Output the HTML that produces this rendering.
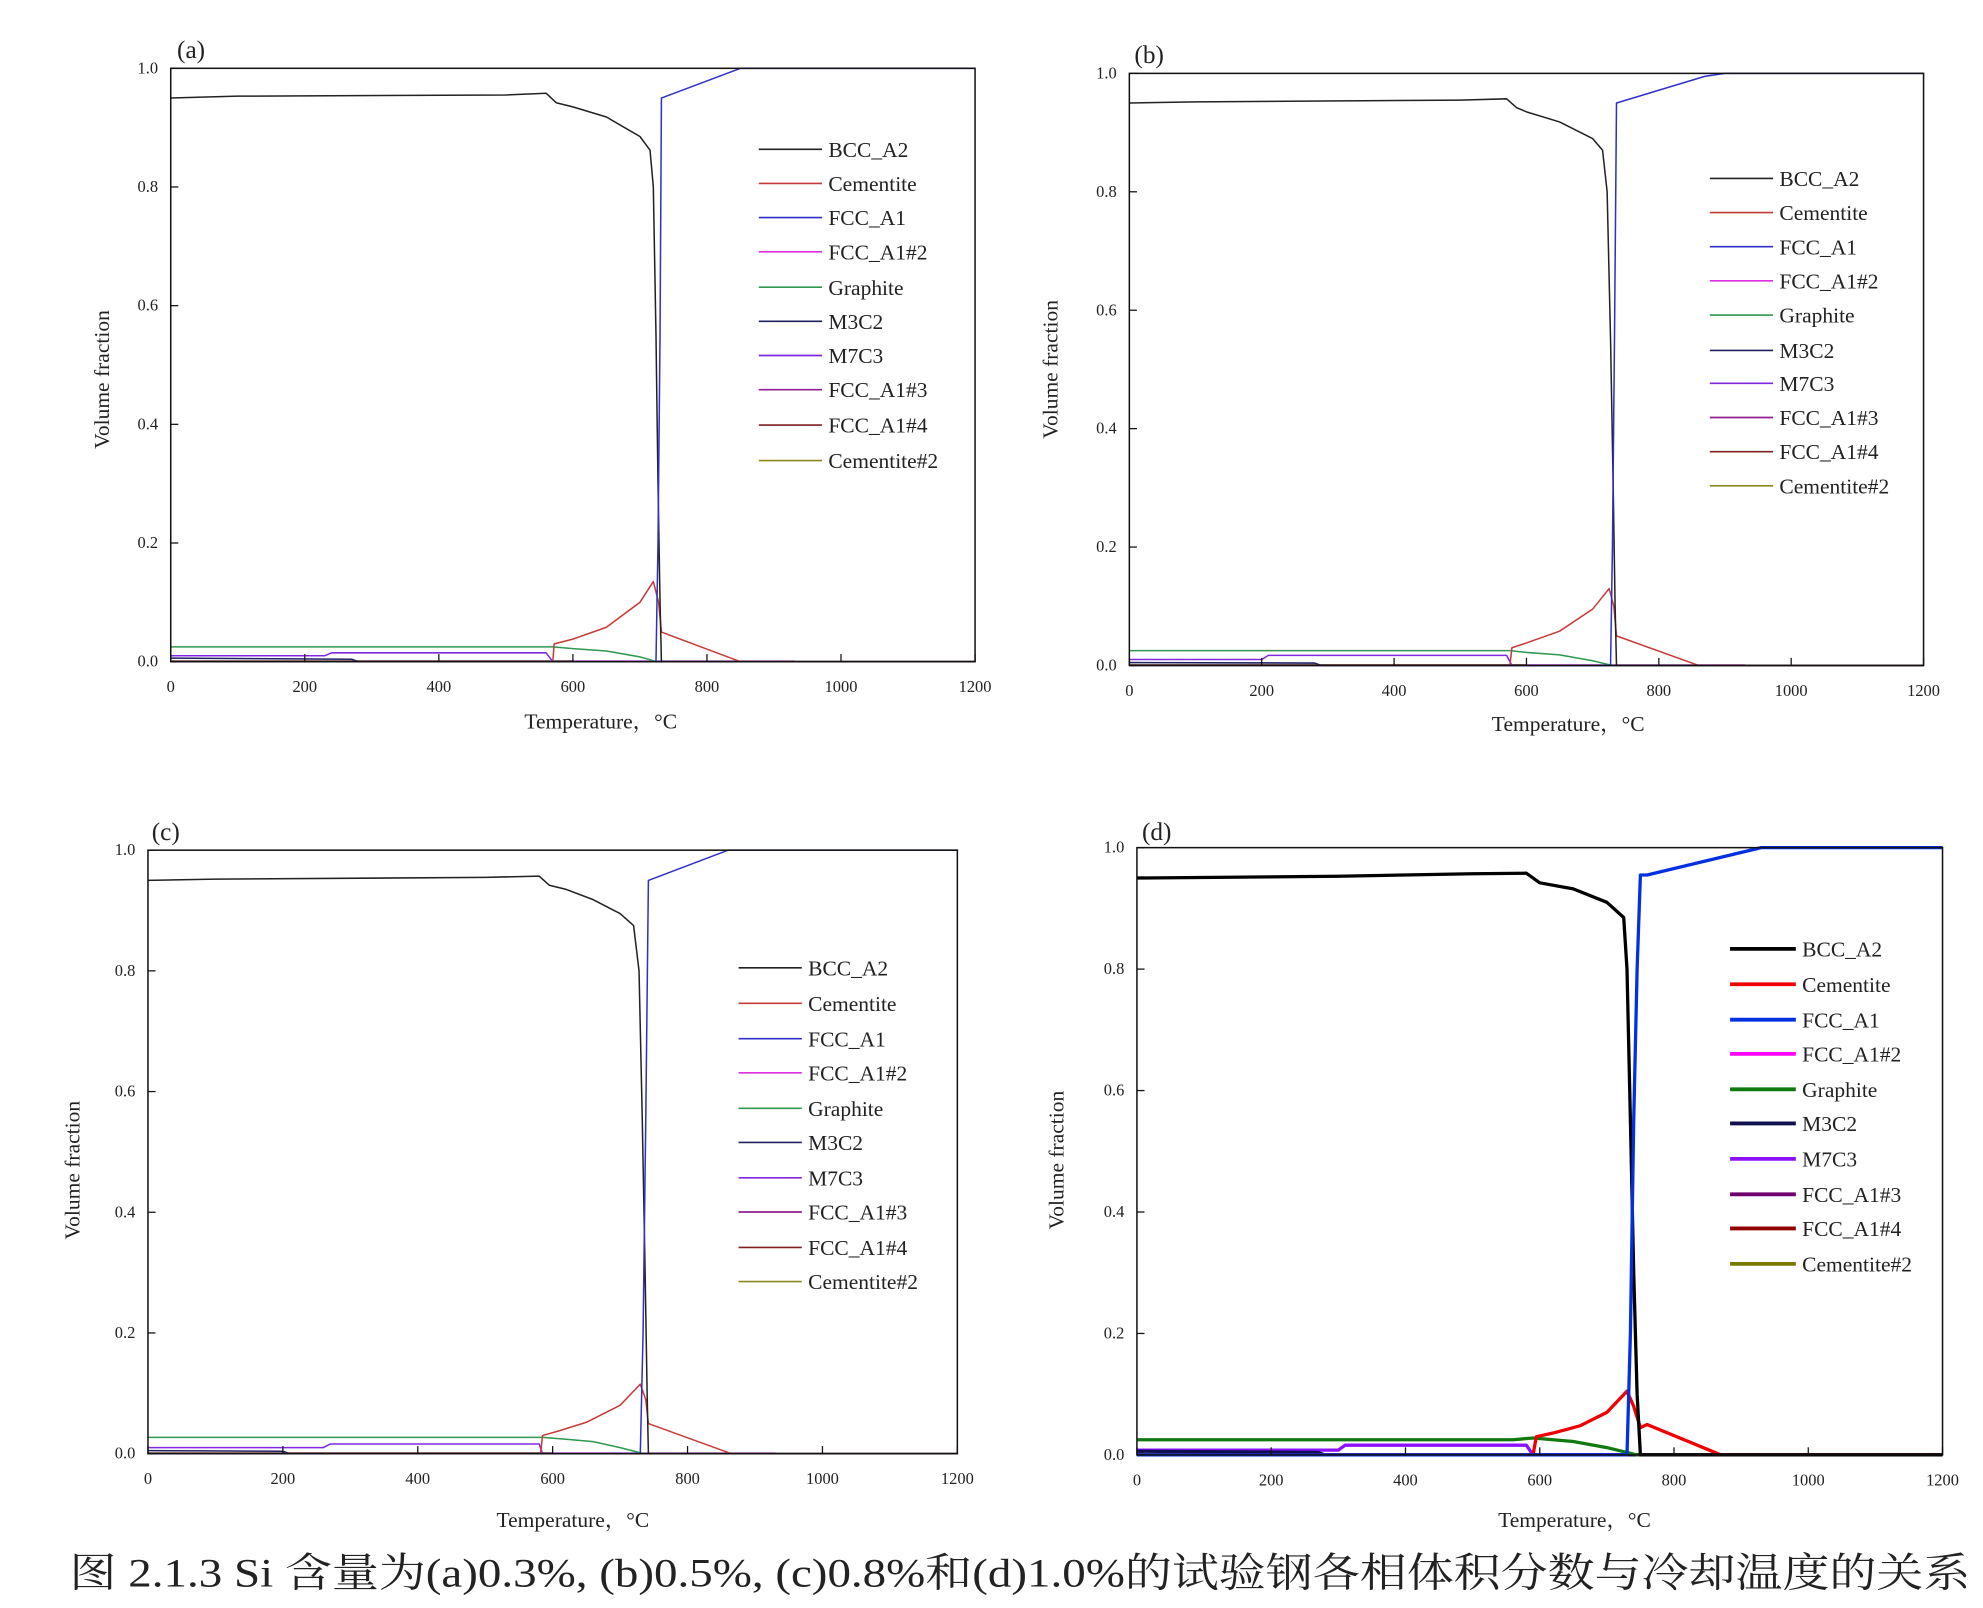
<!DOCTYPE html>
<html><head><meta charset="utf-8"><style>
html,body{margin:0;padding:0;background:#fff;}
svg{display:block;}
text{font-family:"Liberation Serif","Noto Serif CJK SC",serif;fill:#222;}
</style></head><body>
<svg id="fig" width="1983" height="1608" viewBox="0 0 1568 1271" preserveAspectRatio="none" xmlns="http://www.w3.org/2000/svg">
<text x="55" y="1254" font-size="32" textLength="1503" lengthAdjust="spacingAndGlyphs" font-family="Liberation Serif, Noto Serif CJK SC, serif">图 2.1.3 Si 含量为(a)0.3%, (b)0.5%, (c)0.8%和(d)1.0%的试验钢各相体积分数与冷却温度的关系</text>
</svg>
<script>
// shared data
const seriesNames = ["BCC_A2","Cementite","FCC_A1","FCC_A1#2","Graphite","M3C2","M7C3","FCC_A1#3","FCC_A1#4","Cementite#2"];
const xTicks = [0,200,400,600,800,1000,1200];
const yTicks = [0,0.2,0.4,0.6,0.8,1.0];
const yTickLabels = ["0.0","0.2","0.4","0.6","0.8","1.0"];
const panelLabels = ["(a)","(b)","(c)","(d)"];

// panel (a)
const bccA_T = [0,100,500,560,575,600,650,700,715,720,724,727,730,732,1200];
const bccA_V = [0.95,0.953,0.955,0.958,0.942,0.935,0.918,0.885,0.862,0.8,0.55,0.3,0.1,0,0];
const cemA_T = [0,570,572,600,650,700,720,728,732,850,1200];
const cemA_V = [0,0,0.03,0.038,0.058,0.1,0.135,0.1,0.05,0,0];
const fccA_T = [0,724,727,730,732,850,1200];
const fccA_V = [0,0,0.2,0.55,0.95,1.0,1.0];
const grA_T = [0,570,600,650,700,725,1200];
const grA_V = [0.025,0.025,0.022,0.018,0.008,0,0];
const m7A_T = [0,230,240,560,570,1200];
const m7A_V = [0.01,0.01,0.015,0.015,0,0];
const m3A_T = [0,270,280,1200];
const m3A_V = [0.006,0.004,0,0];

// panel (b)
const bccB_T = [0,100,500,570,585,600,650,700,715,722,727,731,734,736,1200];
const bccB_V = [0.95,0.952,0.955,0.957,0.942,0.935,0.918,0.89,0.87,0.8,0.55,0.3,0.1,0,0];
const cemB_T = [0,575,578,600,650,700,725,732,736,860,1200];
const cemB_V = [0,0,0.03,0.038,0.058,0.095,0.13,0.1,0.05,0,0];
const fccB_T = [0,727,730,733,736,870,900,1200];
const fccB_V = [0,0,0.2,0.55,0.95,0.995,1.0,1.0];
const grB_T = [0,575,600,650,700,730,1200];
const grB_V = [0.025,0.025,0.022,0.018,0.008,0,0];
const m7B_T = [0,200,210,570,578,1200];
const m7B_V = [0.01,0.01,0.017,0.017,0,0];
const m3B_T = [0,280,290,1200];
const m3B_V = [0.005,0.004,0,0];

// panel (c)
const bccC_T = [0,100,500,580,595,620,660,700,720,728,733,737,740,742,1200];
const bccC_V = [0.95,0.952,0.955,0.957,0.942,0.935,0.918,0.895,0.875,0.8,0.55,0.3,0.1,0,0];
const cemC_T = [0,582,585,610,650,700,730,738,742,865,1200];
const cemC_V = [0,0,0.03,0.038,0.052,0.08,0.115,0.09,0.05,0,0];
const fccC_T = [0,730,734,738,742,860,1200];
const fccC_V = [0,0,0.2,0.55,0.95,1.0,1.0];
const grC_T = [0,585,620,660,700,735,1200];
const grC_V = [0.027,0.027,0.024,0.02,0.01,0,0];
const m7C_T = [0,260,270,580,585,1200];
const m7C_V = [0.01,0.01,0.016,0.016,0,0];
const m3C_T = [0,200,210,1200];
const m3C_V = [0.005,0.004,0,0];

// panel (d)
const bccD_T = [0,300,500,580,600,650,700,725,730,735,740,745,750,1200];
const bccD_V = [0.95,0.953,0.957,0.958,0.942,0.932,0.91,0.885,0.8,0.55,0.3,0.1,0,0];
const cemD_T = [0,590,595,620,660,700,730,740,750,760,870,1200];
const cemD_V = [0,0,0.03,0.036,0.048,0.07,0.105,0.08,0.045,0.05,0,0];
const fccD_T = [0,730,735,740,745,750,760,930,1200];
const fccD_V = [0,0,0.2,0.55,0.8,0.955,0.955,1.0,1.0];
const grD_T = [0,560,590,650,700,745,1200];
const grD_V = [0.025,0.025,0.028,0.022,0.012,0,0];
const m7D_T = [0,300,310,580,590,1200];
const m7D_V = [0.008,0.008,0.016,0.016,0,0];
const m3D_T = [0,270,280,1200];
const m3D_V = [0.006,0.004,0,0];

const panels = [
 {name:"a",x0:135,x1:771,y0:54,y1:523,lgX:600,lgY:[118,145,172,199,227,254,281,308,336,364],lw:1.2,bold:false,
  s:[[bccA_T,bccA_V],[cemA_T,cemA_V],[fccA_T,fccA_V],null,[grA_T,grA_V],[m3A_T,m3A_V],[m7A_T,m7A_V]],lbl:[140,40],xt:[475,576],yt:[80,300]},
 {name:"b",x0:893,x1:1521,y0:58,y1:526,lgX:1352,lgY:[141,168,195,222,249,277,303,330,357,384],lw:1.2,bold:false,
  s:[[bccB_T,bccB_V],[cemB_T,cemB_V],[fccB_T,fccB_V],null,[grB_T,grB_V],[m3B_T,m3B_V],[m7B_T,m7B_V]],lbl:[897,44],xt:[1240,578],yt:[830,292]},
 {name:"c",x0:117,x1:757,y0:672,y1:1149,lgX:584,lgY:[765,793,821,848,876,903,931,958,986,1013],lw:1.2,bold:false,
  s:[[bccC_T,bccC_V],[cemC_T,cemC_V],[fccC_T,fccC_V],null,[grC_T,grC_V],[m3C_T,m3C_V],[m7C_T,m7C_V]],lbl:[120,658],xt:[453,1207],yt:[57,925]},
 {name:"d",x0:899,x1:1536,y0:670,y1:1150,lgX:1368,lgY:[750,778,806,833,861,888,916,944,971,999],lw:2.6,bold:true,
  s:[[bccD_T,bccD_V],[cemD_T,cemD_V],[fccD_T,fccD_V],null,[grD_T,grD_V],[m3D_T,m3D_V],[m7D_T,m7D_V]],lbl:[903,658],xt:[1245,1207],yt:[835,917]}
];
const NS="http://www.w3.org/2000/svg";
const svg=document.getElementById('fig');
function mk(tag,attrs,parent){const e=document.createElementNS(NS,tag);for(const k in attrs)e.setAttribute(k,attrs[k]);(parent||svg).appendChild(e);return e;}
panels.forEach(p=>{
  const colors = p.bold ? ["#000","#f00000","#0030e0","#ff00ff","#107a10","#101050","#8a10ff","#700070","#900000","#7a7a00"]
                        : ["#222","#c83a3a","#3030c8","#e030e0","#309850","#202060","#8028e0","#902090","#802020","#8a8a20"];
  const g=mk('g',{});
  
  
  const sx=v=>p.x0+(v/1200)*(p.x1-p.x0);
  const sy=v=>p.y1-v*(p.y1-p.y0);
  [3,7,8,9].forEach(i=>{
    const l=mk('line',{x1:sx(0),y1:sy(0)-0.5,x2:sx(i===3?930:600),y2:sy(0)-0.5,stroke:colors[i],'stroke-width':p.lw*0.8},g);
    
    
  });
  [6,5,4,1,0,2].forEach(i=>{
    const d=p.s[i]; if(!d)return;
    const pts=d[0].map((t,k)=>sx(t).toFixed(1)+','+sy(d[1][k]).toFixed(1)).join(' ');
    const pl=mk('polyline',{points:pts,fill:'none',stroke:colors[i],'stroke-width':p.lw,'stroke-linejoin':'round'},g);
    
    
  });
  const fr=mk('rect',{x:p.x0,y:p.y0,width:p.x1-p.x0,height:p.y1-p.y0,fill:'none',stroke:'#111','stroke-width':1.2},g);
  
  
  xTicks.forEach(t=>{
    mk('line',{x1:sx(t),y1:p.y1,x2:sx(t),y2:p.y1-6,stroke:'#111','stroke-width':1},g);
    const tx=mk('text',{x:sx(t),y:p.y1+24,'font-size':13,'text-anchor':'middle'},g);
    tx.textContent=t;
    
    
  });
  yTicks.forEach((t,k)=>{
    mk('line',{x1:p.x0,y1:sy(t),x2:p.x0+6,y2:sy(t),stroke:'#111','stroke-width':1},g);
    const tx=mk('text',{x:p.x0-10,y:sy(t)+4,'font-size':13,'text-anchor':'end'},g);
    tx.textContent=yTickLabels[k];
    
    
  });
  const lb=mk('text',{x:p.lbl[0],y:p.lbl[1]+6,'font-size':20},g);
  lb.textContent=panelLabels[panels.indexOf(p)];
  
  
  const xt=mk('text',{x:p.xt[0],y:p.xt[1],'font-size':17,'text-anchor':'middle'},g);
  xt.textContent='Temperature，°C';
  
  
  const yt=mk('text',{x:0,y:0,'font-size':17,'text-anchor':'middle',transform:`translate(${p.yt[0]+6},${p.yt[1]}) rotate(-90)`},g);
  yt.textContent='Volume fraction';
  
  
  seriesNames.forEach((n,i)=>{
    const y=p.lgY[i];
    const ll=mk('line',{x1:p.lgX,y1:y,x2:p.lgX+(p.bold?52:50),y2:y,stroke:colors[i],'stroke-width':p.bold?3:1.3},g);
    
    
    const tx=mk('text',{x:p.lgX+(p.bold?57:55),y:y+6,'font-size':17},g);
    tx.textContent=n;
    
    
  });
});
</script>
</body></html>
